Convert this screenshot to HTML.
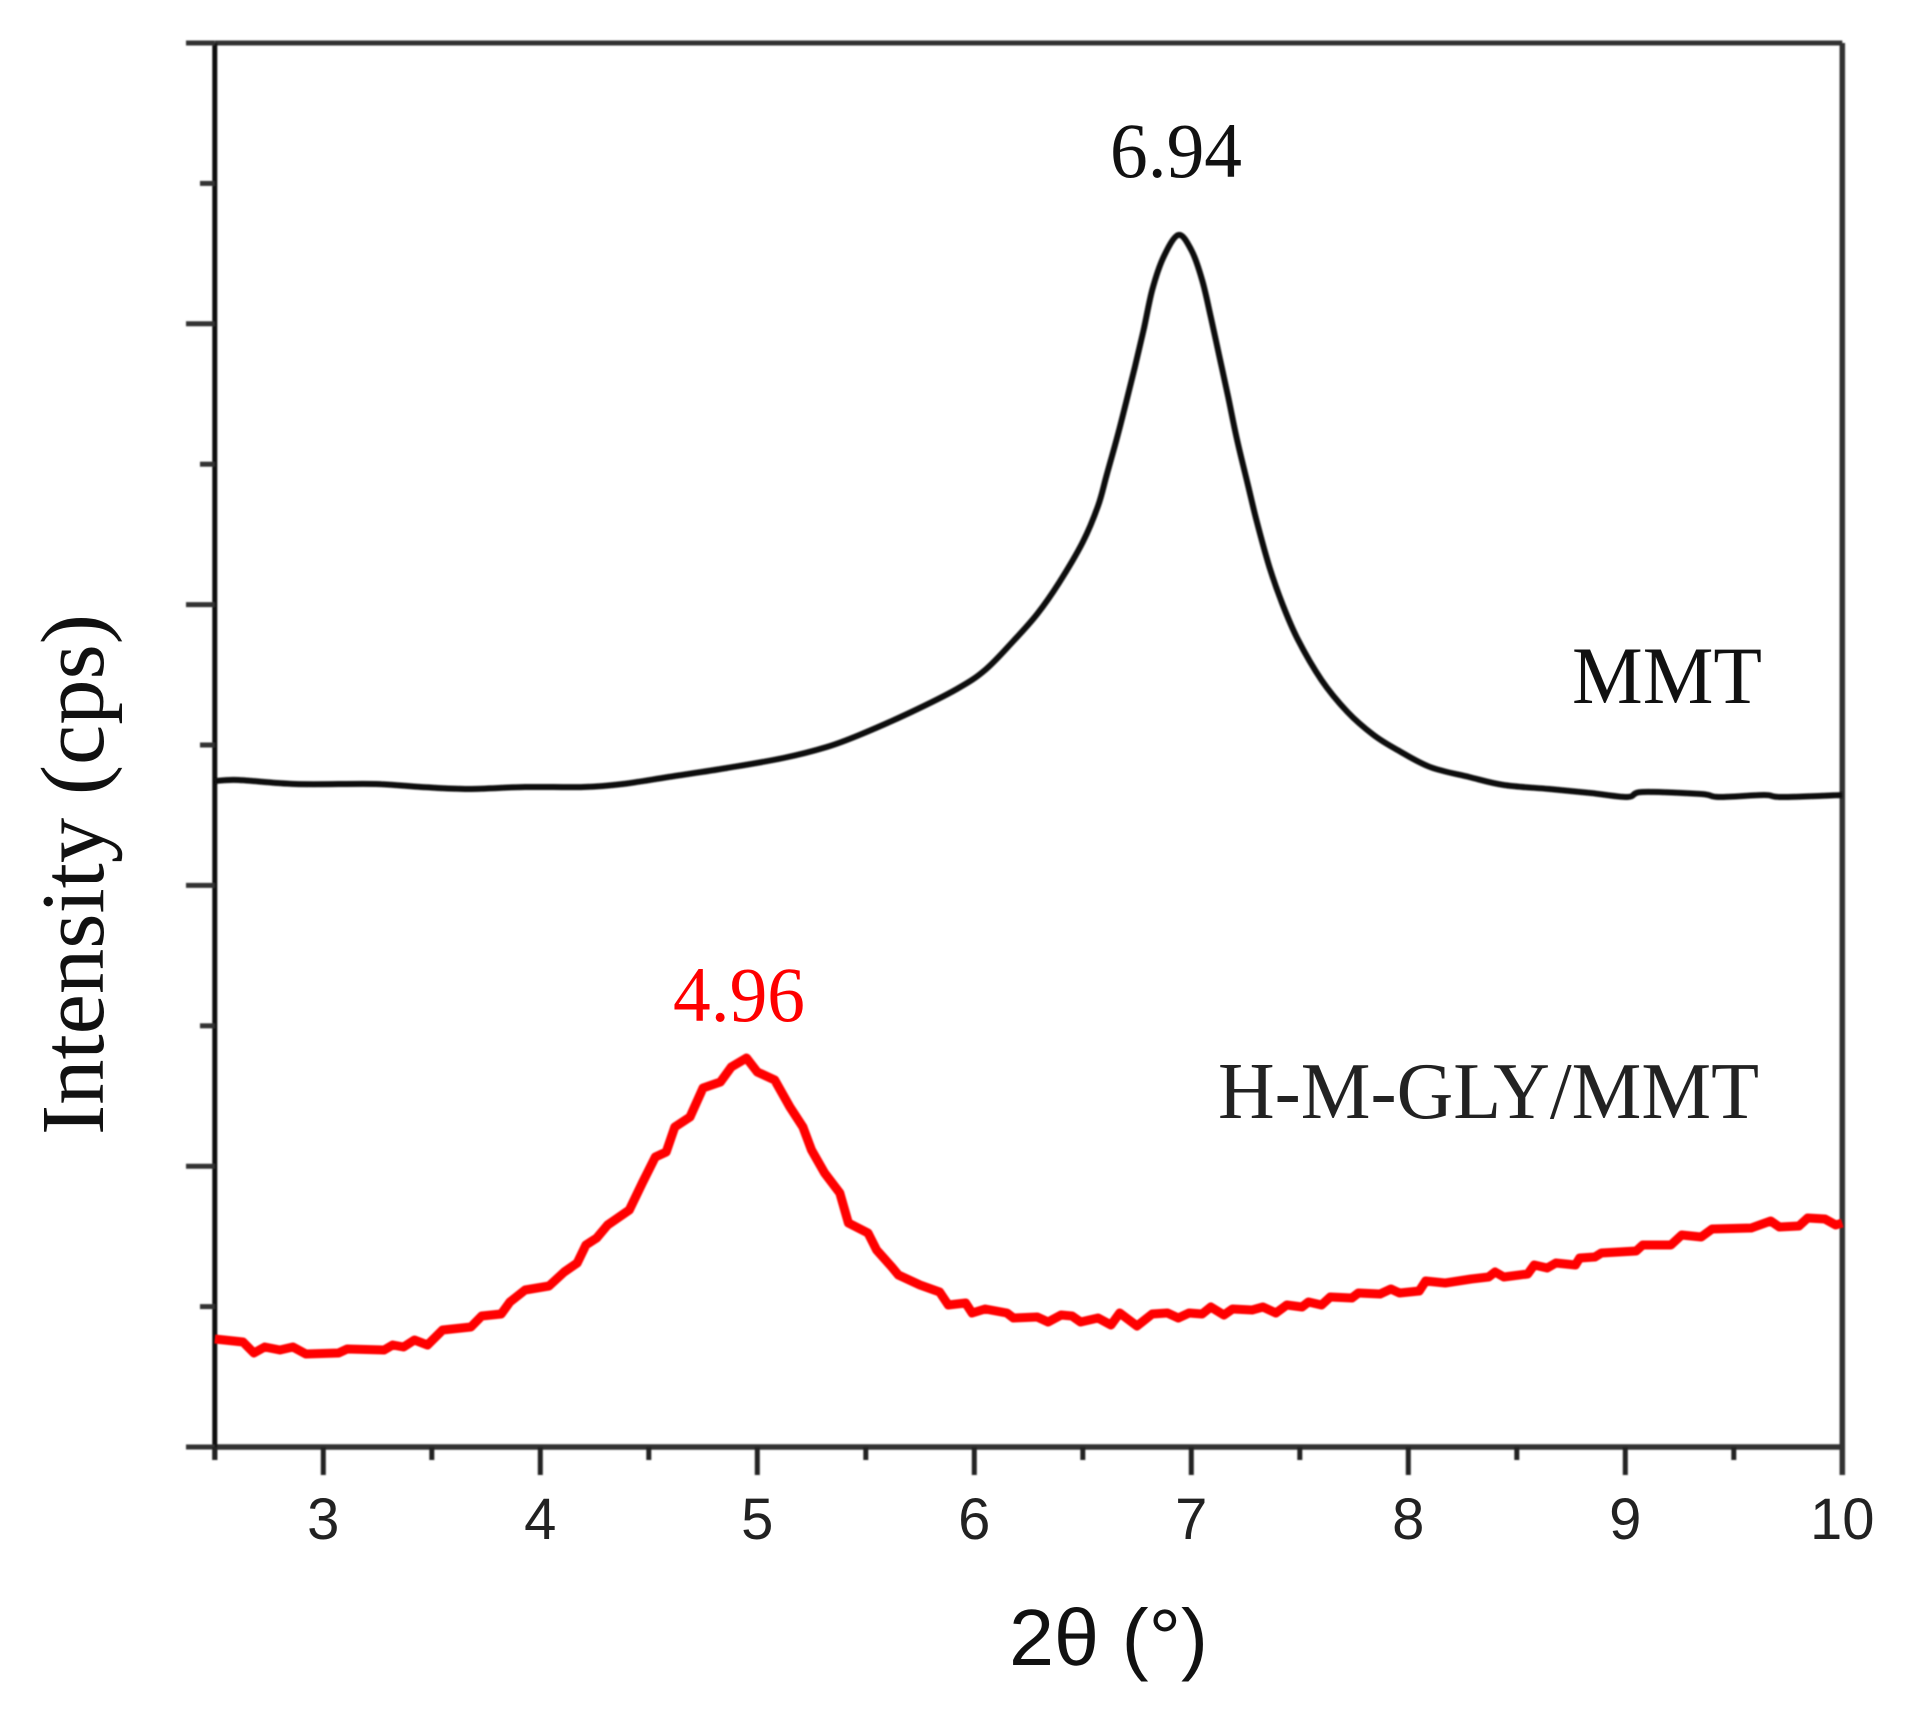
<!DOCTYPE html>
<html lang="en">
<head>
<meta charset="utf-8">
<title>XRD patterns of MMT and H-M-GLY/MMT</title>
<style>
html,body{margin:0;padding:0;background:#fff;}
body{width:1910px;height:1726px;overflow:hidden;}
svg{display:block;}
.serif{font-family:"Liberation Serif",serif;}
.sans{font-family:"Liberation Sans",sans-serif;}
</style>
</head>
<body>
<svg id="chart" xmlns="http://www.w3.org/2000/svg" width="1910" height="1726" viewBox="0 0 1910 1726">
  <defs>
    <filter id="soft" x="-5%" y="-5%" width="110%" height="110%"><feGaussianBlur stdDeviation="0.7"/></filter>
  </defs>
  <rect x="0" y="0" width="1910" height="1726" fill="#fff"/>
  <g id="axes" filter="url(#soft)"></g>
  <g id="series" filter="url(#soft)"></g>
  <g id="xlabels"></g>
  <text class="sans" x="1009" y="1665" font-size="80" fill="#111" textLength="199" lengthAdjust="spacingAndGlyphs">2θ (°)</text>
  <text class="serif" transform="translate(103,1135) rotate(-90)" x="0" y="0" font-size="90" fill="#111" textLength="521" lengthAdjust="spacingAndGlyphs">Intensity (cps)</text>
  <text class="serif" x="1110" y="177" font-size="78" fill="#111" textLength="132" lengthAdjust="spacingAndGlyphs">6.94</text>
  <text class="serif" x="673" y="1021" font-size="78" fill="#ff0000" textLength="132" lengthAdjust="spacingAndGlyphs">4.96</text>
  <text class="serif" x="1572" y="703" font-size="82" fill="#111" textLength="190" lengthAdjust="spacingAndGlyphs">MMT</text>
  <text class="serif" x="1218" y="1118" font-size="80" fill="#222" textLength="541" lengthAdjust="spacingAndGlyphs">H-M-GLY/MMT</text>
</svg>
<script>
// Data
const xTickLabels = [3, 4, 5, 6, 7, 8, 9, 10];
const xMinorTicks = [2.5, 3.5, 4.5, 5.5, 6.5, 7.5, 8.5, 9.5];
const yMajorTicks = [0, 280.8, 561.6, 842.4, 1123.2, 1404];
const yMinorTicks = [140.4, 421.2, 702, 982.8, 1263.6];

const mmtTheta = [2.5,2.61,2.87,3.24,3.45,3.67,3.93,4.20,4.38,4.59,4.86,5.12,5.32,5.47,5.70,5.92,6.05,6.18,6.29,6.39,6.50,6.57,6.61,6.66,6.70,6.74,6.78,6.82,6.87,6.94,7.00,7.05,7.09,7.13,7.17,7.21,7.26,7.30,7.36,7.42,7.49,7.60,7.72,7.84,7.95,8.10,8.28,8.44,8.65,8.84,9.01,9.08,9.35,9.43,9.64,9.72,10.0];
const mmtIntensity = [666,667,663,663,660,658,660,660,663,670,679,689,700,712,734,758,777,806,833,864,905,941,972,1011,1045,1080,1117,1157,1189,1212,1197,1167,1130,1090,1050,1008,963,927,880,843,808,767,735,712,697,680,670,662,658,654,650,655,653,650,652,650,652];

const hybridTheta = [2.5,2.63,2.68,2.73,2.80,2.86,2.92,3.07,3.11,3.28,3.32,3.37,3.42,3.48,3.55,3.68,3.73,3.82,3.86,3.93,4.04,4.11,4.17,4.21,4.26,4.31,4.41,4.47,4.53,4.58,4.62,4.69,4.75,4.83,4.88,4.95,5.00,5.08,5.15,5.21,5.25,5.31,5.38,5.42,5.51,5.55,5.62,5.65,5.75,5.84,5.88,5.96,5.99,6.05,6.15,6.18,6.29,6.34,6.40,6.45,6.49,6.57,6.63,6.67,6.75,6.82,6.89,6.94,6.99,7.05,7.09,7.15,7.19,7.28,7.33,7.39,7.44,7.51,7.54,7.60,7.64,7.74,7.77,7.87,7.92,7.96,8.05,8.08,8.17,8.29,8.37,8.40,8.44,8.55,8.58,8.64,8.68,8.77,8.79,8.86,8.89,9.05,9.08,9.21,9.26,9.35,9.40,9.58,9.67,9.71,9.80,9.84,9.92,9.97,10.0];
const hybridIntensity = [108,105,94,100,97,100,93,94,98,97,102,100,107,102,117,120,131,133,145,157,161,175,184,202,209,222,237,264,290,295,320,330,359,365,380,389,375,367,340,320,297,274,254,224,214,197,180,172,162,155,142,144,134,138,134,129,130,125,132,131,125,129,122,134,121,133,134,129,134,133,140,132,138,137,140,134,142,140,145,142,150,149,154,153,158,154,156,166,164,168,170,175,170,173,182,179,184,182,189,190,194,196,202,202,212,210,218,219,226,220,221,229,228,222,224];

// Axis functions
const xScale = function (v) { return 214.8 + (v - 2.5) * 217; };
const yScale = function (v) { return 1447 - v; };

const NS = 'http://www.w3.org/2000/svg';
const axes = document.getElementById('axes');
const series = document.getElementById('series');
const xlabels = document.getElementById('xlabels');

function makeLine(x1, y1, x2, y2, width, color) {
  const l = document.createElementNS(NS, 'line');
  l.setAttribute('x1', x1);
  l.setAttribute('y1', y1);
  l.setAttribute('x2', x2);
  l.setAttribute('y2', y2);
  l.setAttribute('stroke', color);
  l.setAttribute('stroke-width', width);
  axes.appendChild(l);
  return l;
}

const plotLeft = xScale(2.5);
const plotRight = xScale(10);
const plotTop = yScale(1404);
const plotBottom = yScale(0);

const topAxis = makeLine(plotLeft, plotTop, plotRight, plotTop, 5, '#333');



const bottomAxis = makeLine(plotLeft, plotBottom, plotRight, plotBottom, 5.5, '#333');



const leftAxis = makeLine(plotLeft, plotTop, plotLeft, 1460, 5, '#111');



const rightAxis = makeLine(plotRight, plotTop, plotRight, 1475, 5.5, '#333');



yMajorTicks.forEach(function (v) {
  const t = makeLine(186, yScale(v), plotLeft, yScale(v), 5, '#333');
  
  
});
yMinorTicks.forEach(function (v) {
  const t = makeLine(200, yScale(v), plotLeft, yScale(v), 5, '#333');
  
  
});
xMinorTicks.forEach(function (v) {
  const t = makeLine(xScale(v), plotBottom, xScale(v), 1460, 5, '#222');
  
  
});
xTickLabels.forEach(function (v) {
  if (v !== 10) {
    const t = makeLine(xScale(v), plotBottom, xScale(v), 1475, 5, '#222');
    
    
  }
  const label = document.createElementNS(NS, 'text');
  label.setAttribute('x', xScale(v));
  label.setAttribute('y', 1539);
  label.setAttribute('text-anchor', 'middle');
  label.setAttribute('font-size', '58');
  label.setAttribute('fill', '#222');
  label.setAttribute('class', 'sans');
  label.textContent = String(v);
  
  
  xlabels.appendChild(label);
});

function buildPath(xs, ys) {
  return xs.map(function (x, i) {
    return (i ? 'L' : 'M') + xScale(x).toFixed(1) + ' ' + yScale(ys[i]).toFixed(1);
  }).join(' ');
}

// Catmull-Rom smoothing through the read data points
function buildSmoothPath(xs, ys) {
  const px = xs.map(xScale);
  const py = ys.map(yScale);
  const n = px.length;
  let d = 'M' + px[0].toFixed(1) + ' ' + py[0].toFixed(1);
  for (let i = 0; i < n - 1; i++) {
    const a = Math.max(i - 1, 0);
    const b = Math.min(i + 2, n - 1);
    const c1x = px[i] + (px[i + 1] - px[a]) / 6;
    const c1y = py[i] + (py[i + 1] - py[a]) / 6;
    const c2x = px[i + 1] - (px[b] - px[i]) / 6;
    const c2y = py[i + 1] - (py[b] - py[i]) / 6;
    d += ' C' + c1x.toFixed(1) + ' ' + c1y.toFixed(1) + ' ' + c2x.toFixed(1) + ' ' + c2y.toFixed(1) + ' ' + px[i + 1].toFixed(1) + ' ' + py[i + 1].toFixed(1);
  }
  return d;
}

const mmtLine = document.createElementNS(NS, 'path');
mmtLine.setAttribute('d', buildSmoothPath(mmtTheta, mmtIntensity));
mmtLine.setAttribute('fill', 'none');
mmtLine.setAttribute('stroke', '#111');
mmtLine.setAttribute('stroke-width', '6');
mmtLine.setAttribute('stroke-linejoin', 'round');


series.appendChild(mmtLine);

const hybridLine = document.createElementNS(NS, 'path');
hybridLine.setAttribute('d', buildPath(hybridTheta, hybridIntensity));
hybridLine.setAttribute('fill', 'none');
hybridLine.setAttribute('stroke', '#ff0000');
hybridLine.setAttribute('stroke-width', '9');
hybridLine.setAttribute('stroke-linejoin', 'round');


series.appendChild(hybridLine);
</script>
</body>
</html>
